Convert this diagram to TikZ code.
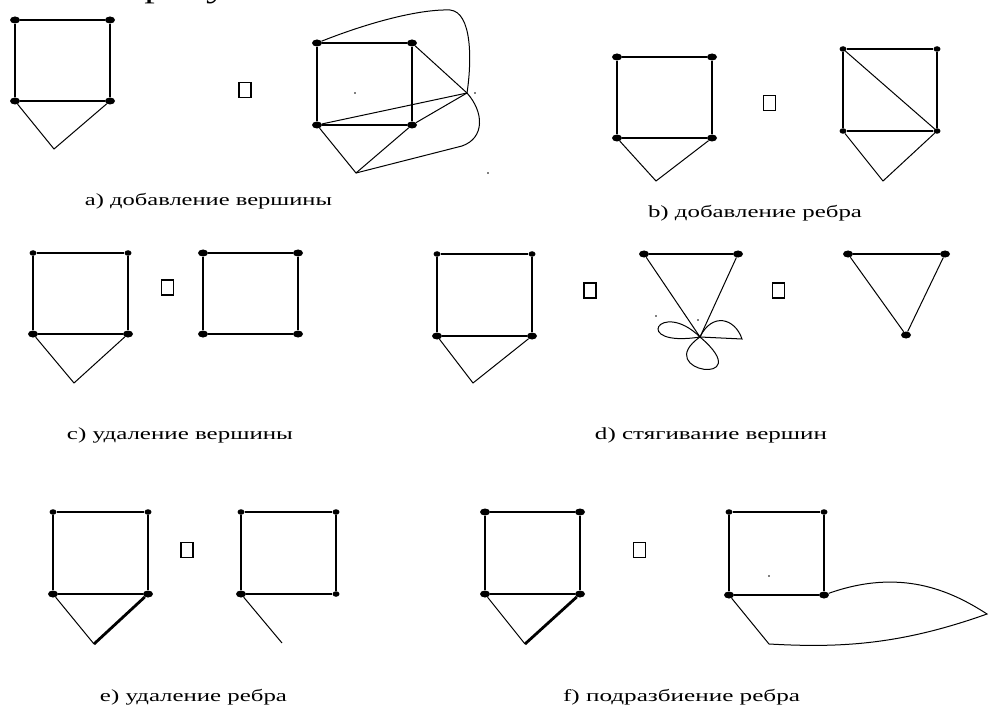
\documentclass[tikz,border=0pt]{standalone}
\usepackage{fontspec}
\setmainfont{Liberation Serif}
\usetikzlibrary{shapes.geometric}

\newcommand\caplbl[2]{\resizebox{#1}{\height}{#2}}

\begin{document}
\begin{tikzpicture}[x=1pt,y=-1pt,
    vtx/.style={ellipse,fill,inner sep=0pt,minimum width=10pt,minimum height=7pt},
    vtxs/.style={vtx,minimum width=7pt,minimum height=5.5pt},
    side/.style={line width=1.6pt},
    thin/.style={line width=1pt},
    bold/.style={line width=2.8pt},
    sym/.style={draw,line width=1.2pt,inner sep=0pt,minimum width=12pt,minimum height=15pt},
    caption/.style={anchor=base,inner sep=0pt,font=\fontsize{17}{20}\selectfont}]
    \useasboundingbox (0,0) rectangle (989,706);

    % cut-off text line at the top
    \begin{scope}
        \clip (0,0) rectangle (989,12);
        \node[anchor=base west,inner sep=0pt,font=\fontsize{30}{32}\selectfont] (toptxt) at (12,-2.5) {\caplbl{318pt}{ены на рисунке 3.}};
    \end{scope}

    % a) left graph
    \node[vtx] (a1tl) at (15,20) {};
    \node[vtx] (a1tr) at (110,20) {};
    \node[vtx] (a1bl) at (15,101) {};
    \node[vtx] (a1br) at (110,101) {};
    \coordinate (a1ap) at (54,149);
    \draw[side] (a1tl) -- (a1tr) -- (a1br) -- (a1bl) -- (a1tl);
    \draw[thin] (a1bl) -- (a1ap) -- (a1br);
    \node[sym] (asym) at (245,90) {};

    % a) right graph with the new vertex
    \node[vtx] (a2tl) at (317,43) {};
    \node[vtx] (a2tr) at (412,43) {};
    \node[vtx] (a2bl) at (317,125) {};
    \node[vtx] (a2br) at (412,125) {};
    \coordinate (a2ap) at (356,173);
    \coordinate (a2new) at (467,93);
    \draw[side] (a2tl) -- (a2tr) -- (a2br) -- (a2bl) -- (a2tl);
    \draw[thin] (a2bl) -- (a2ap) -- (a2br);
    \draw[thin] (a2tr) -- (a2new);
    \draw[thin] (a2bl) -- (a2new);
    \draw[thin] (a2br) -- (a2new);
    \draw[thin] (a2tl) .. controls (370,22) and (420,9) .. (450,10)
        .. controls (472,12) and (472,60) .. (a2new);
    \draw[thin] (a2new) .. controls (484,112) and (485,138) .. (462,146) -- (a2ap);
    \fill (355,93) circle (0.8) (475,93) circle (0.8) (488,173) circle (0.8);
    \node[caption] (acap) at (208.5,206) {\caplbl{247pt}{a) добавление вершины}};

    % b) left graph
    \node[vtx] (b1tl) at (617,57) {};
    \node[vtx] (b1tr) at (712,57) {};
    \node[vtx] (b1bl) at (617,138) {};
    \node[vtx] (b1br) at (712,138) {};
    \coordinate (b1ap) at (656,181);
    \draw[side] (b1tl) -- (b1tr) -- (b1br) -- (b1bl) -- (b1tl);
    \draw[thin] (b1bl) -- (b1ap) -- (b1br);
    \node[sym] (bsym) at (769.5,103) {};

    % b) right graph with the new edge
    \node[vtxs] (b2tl) at (843,49) {};
    \node[vtxs] (b2tr) at (937,49) {};
    \node[vtxs] (b2bl) at (843,131) {};
    \node[vtxs] (b2br) at (937,131) {};
    \coordinate (b2ap) at (883,181);
    \draw[side] (b2tl) -- (b2tr) -- (b2br) -- (b2bl) -- (b2tl);
    \draw[thin] (b2bl) -- (b2ap) -- (b2br);
    \draw[thin] (b2tl) -- (b2br);
    \node[caption] (bcap) at (755,218) {\caplbl{214pt}{b) добавление ребра}};

    % c) vertex removal
    \node[vtxs] (c1tl) at (33,253) {};
    \node[vtxs] (c1tr) at (128,253) {};
    \node[vtx] (c1bl) at (33,334) {};
    \node[vtx] (c1br) at (128,334) {};
    \coordinate (c1ap) at (74,383);
    \draw[side] (c1tl) -- (c1tr) -- (c1br) -- (c1bl) -- (c1tl);
    \draw[thin] (c1bl) -- (c1ap) -- (c1br);
    \node[sym] (csym) at (167.5,287.5) {};
    \node[vtx] (c2tl) at (203,253) {};
    \node[vtx] (c2tr) at (298,253) {};
    \node[vtx] (c2bl) at (203,334) {};
    \node[vtx] (c2br) at (298,334) {};
    \draw[side] (c2tl) -- (c2tr) -- (c2br) -- (c2bl) -- (c2tl);
    \node[caption] (ccap) at (180,439) {\caplbl{226pt}{c) удаление вершины}};

    % d) contraction
    \node[vtxs] (d1tl) at (437,254) {};
    \node[vtxs] (d1tr) at (532,254) {};
    \node[vtx] (d1bl) at (437,336) {};
    \node[vtx] (d1br) at (532,336) {};
    \coordinate (d1ap) at (473,383);
    \draw[side] (d1tl) -- (d1tr) -- (d1br) -- (d1bl) -- (d1tl);
    \draw[thin] (d1bl) -- (d1ap) -- (d1br);
    \node[sym] (dsym1) at (590,290.5) {};
    \node[vtx] (d2l) at (644,254) {};
    \node[vtx] (d2r) at (738,254) {};
    \coordinate (d2m) at (700,337);
    \draw[side] (d2l) -- (d2r);
    \draw[thin] (d2l) -- (d2m) -- (d2r);
    \draw[thin] (d2m) .. controls (630,348) and (660,298) .. (d2m);
    \draw[thin] (d2m) -- (742,339) .. controls (735,318) and (712,312) .. (d2m);
    \draw[thin] (d2m) .. controls (650,372) and (760,388) .. (d2m);
    \fill (656,316) circle (0.8) (698,320) circle (0.8);
    \node[sym] (dsym2) at (778.5,290.5) {};
    \node[vtx] (d3l) at (848,254) {};
    \node[vtx] (d3r) at (945,254) {};
    \node[vtx] (d3b) at (906,335) {};
    \draw[side] (d3l) -- (d3r);
    \draw[thin] (d3l) -- (d3b) -- (d3r);
    \node[caption] (dcap) at (711,439) {\caplbl{232pt}{d) стягивание вершин}};

    % e) edge removal
    \node[vtxs] (e1tl) at (53,512) {};
    \node[vtxs] (e1tr) at (148,512) {};
    \node[vtx] (e1bl) at (53,594) {};
    \node[vtx] (e1br) at (148,594) {};
    \coordinate (e1ap) at (94,644);
    \draw[side] (e1tl) -- (e1tr) -- (e1br) -- (e1bl) -- (e1tl);
    \draw[thin] (e1bl) -- (e1ap);
    \draw[bold] (e1br) -- (e1ap);
    \node[sym] (esym) at (187,550) {};
    \node[vtxs] (e2tl) at (241,512) {};
    \node[vtxs] (e2tr) at (336,512) {};
    \node[vtx] (e2bl) at (241,594) {};
    \node[vtxs] (e2br) at (336,594) {};
    \coordinate (e2end) at (282,643);
    \draw[side] (e2tl) -- (e2tr) -- (e2br) -- (e2bl) -- (e2tl);
    \draw[thin] (e2bl) -- (e2end);
    \node[caption] (ecap) at (193.5,701) {\caplbl{187pt}{e) удаление ребра}};

    % f) edge subdivision
    \node[vtx] (f1tl) at (485,512) {};
    \node[vtx] (f1tr) at (580,512) {};
    \node[vtx] (f1bl) at (485,594) {};
    \node[vtx] (f1br) at (580,594) {};
    \coordinate (f1ap) at (525,644);
    \draw[side] (f1tl) -- (f1tr) -- (f1br) -- (f1bl) -- (f1tl);
    \draw[thin] (f1bl) -- (f1ap);
    \draw[bold] (f1br) -- (f1ap);
    \node[sym] (fsym) at (639.5,550) {};
    \node[vtxs] (f2tl) at (729,512) {};
    \node[vtxs] (f2tr) at (824,512) {};
    \node[vtx] (f2bl) at (729,595) {};
    \node[vtx] (f2br) at (824,595) {};
    \coordinate (f2new) at (769,644);
    \draw[side] (f2tl) -- (f2tr) -- (f2br) -- (f2bl) -- (f2tl);
    \draw[thin] (f2bl) -- (f2new) .. controls (840,648) and (900,645) .. (987,614)
        .. controls (950,590) and (900,568) .. (f2br);
    \fill (769,576) circle (0.8);
    \node[caption] (fcap) at (681.5,701) {\caplbl{237pt}{f) подразбиение ребра}};
\end{tikzpicture}
\end{document}
